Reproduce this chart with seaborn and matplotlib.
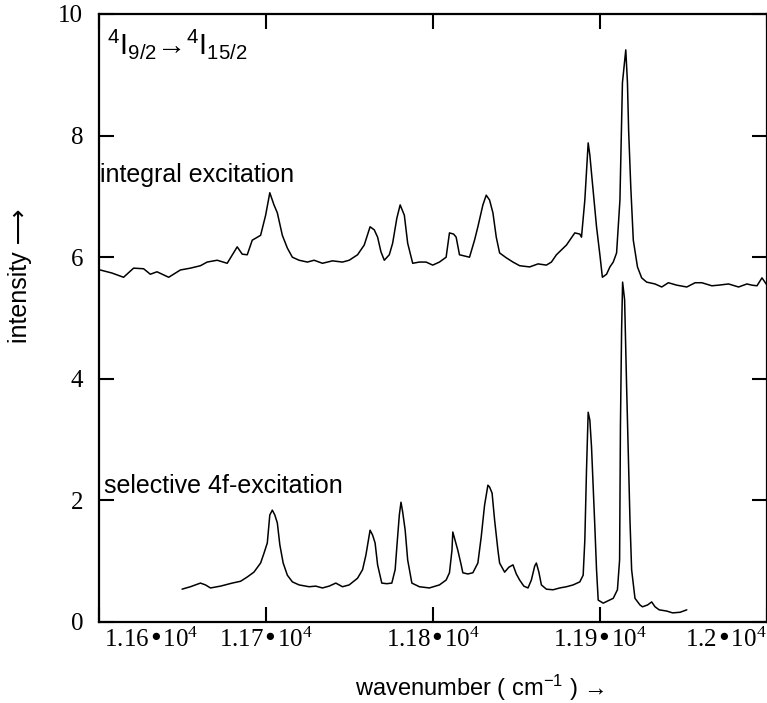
import matplotlib
matplotlib.use("Agg")
import matplotlib.pyplot as plt
import pandas as pd
import seaborn as sns

# integral excitation spectrum (upper trace)
integral_wn = [
    11601, 11608, 11615, 11621, 11627, 11631, 11635, 11642, 11649, 11655,
    11661, 11665, 11671, 11677, 11683, 11686, 11689, 11692, 11697, 11700,
    11702.5, 11705, 11707, 11710, 11713, 11716, 11720, 11725, 11729, 11734,
    11740, 11746, 11750, 11755, 11759, 11762.5, 11765, 11767, 11769, 11771,
    11774, 11776, 11778.5, 11780.5, 11783, 11785, 11788, 11792, 11796, 11800,
    11804, 11808, 11810, 11812.5, 11814, 11816, 11819, 11822, 11825, 11827,
    11830, 11832, 11834, 11836, 11838, 11840, 11844, 11848, 11852, 11858,
    11863, 11868, 11871, 11874, 11880, 11885, 11888, 11889, 11891, 11893,
    11894, 11895, 11898, 11900, 11901.5, 11904, 11906, 11908, 11910, 11912,
    11913.5, 11915.5, 11916.5, 11917.2, 11918.5, 11920, 11922.5, 11925, 11928, 11933,
    11937, 11941, 11946, 11952, 11957, 11961, 11967, 11971, 11977, 11983,
    11988, 11991, 11994, 11997, 12000,
]
integral_int = [
    5.79, 5.74, 5.67, 5.82, 5.81, 5.72, 5.76, 5.67, 5.79, 5.82,
    5.86, 5.92, 5.95, 5.90, 6.17, 6.05, 6.04, 6.28, 6.36, 6.69,
    7.06, 6.86, 6.73, 6.36, 6.15, 6.00, 5.95, 5.92, 5.95, 5.90,
    5.94, 5.92, 5.95, 6.04, 6.20, 6.50, 6.45, 6.33, 6.09, 5.95,
    6.04, 6.23, 6.64, 6.86, 6.69, 6.23, 5.90, 5.92, 5.92, 5.87,
    5.92, 6.00, 6.40, 6.38, 6.33, 6.04, 6.02, 6.00, 6.28, 6.50,
    6.86, 7.02, 6.94, 6.73, 6.33, 6.07, 5.99, 5.92, 5.86, 5.84,
    5.89, 5.87, 5.92, 6.04, 6.20, 6.40, 6.38, 6.33, 6.94, 7.88,
    7.68, 7.38, 6.50, 6.04, 5.67, 5.72, 5.84, 5.92, 6.07, 6.94,
    8.87, 9.41, 8.87, 8.09, 7.15, 6.28, 5.84, 5.66, 5.59, 5.56,
    5.51, 5.58, 5.54, 5.51, 5.58, 5.58, 5.53, 5.54, 5.56, 5.51,
    5.56, 5.54, 5.53, 5.66, 5.54,
]

# selective 4f-excitation spectrum (lower trace)
selective_wn = [
    11650, 11655, 11661, 11664, 11667, 11673, 11680, 11685, 11689, 11693,
    11697, 11699, 11701, 11702.5, 11704, 11705.5, 11707, 11708.5, 11710.5, 11713,
    11716, 11720, 11726, 11730, 11734, 11738, 11742, 11746, 11750, 11755,
    11758, 11760, 11762.5, 11764, 11765.5, 11767, 11769.5, 11772.5, 11775.5, 11777.5,
    11778.5, 11780, 11781, 11782, 11783.5, 11785, 11787.5, 11792, 11798, 11804,
    11808, 11810, 11811.5, 11812, 11813, 11815, 11817, 11818, 11821, 11824,
    11827, 11829, 11831, 11833, 11834, 11835.5, 11837, 11839, 11840, 11843,
    11845.5, 11848, 11850, 11852, 11854.5, 11857, 11859, 11861, 11862, 11863.5,
    11865, 11868, 11872, 11876, 11880, 11884, 11888, 11890, 11891, 11892,
    11893, 11894, 11895, 11897, 11898, 11899, 11902, 11905, 11908, 11910.5,
    11911.8, 11912.3, 11913, 11913.6, 11914.8, 11916, 11918, 11919, 11921, 11924,
    11925.5, 11928.5, 11931, 11933, 11935.5, 11940, 11943.5, 11948, 11952,
]
selective_int = [
    0.54, 0.58, 0.64, 0.61, 0.56, 0.59, 0.64, 0.67, 0.74, 0.82,
    0.97, 1.13, 1.30, 1.76, 1.84, 1.76, 1.63, 1.27, 0.97, 0.77,
    0.66, 0.61, 0.58, 0.59, 0.56, 0.59, 0.64, 0.58, 0.61, 0.72,
    0.86, 1.10, 1.51, 1.43, 1.30, 0.94, 0.64, 0.63, 0.64, 0.86,
    1.23, 1.76, 1.97, 1.81, 1.51, 1.02, 0.64, 0.58, 0.56, 0.61,
    0.69, 0.81, 1.18, 1.48, 1.38, 1.18, 0.94, 0.81, 0.79, 0.81,
    0.97, 1.40, 1.92, 2.25, 2.22, 2.12, 1.68, 1.18, 0.97, 0.82,
    0.90, 0.94, 0.79, 0.69, 0.59, 0.56, 0.69, 0.92, 0.97, 0.82,
    0.61, 0.54, 0.53, 0.56, 0.58, 0.61, 0.66, 0.77, 1.35, 2.50,
    3.45, 3.32, 2.88, 1.56, 0.86, 0.36, 0.31, 0.35, 0.39, 0.53,
    1.02, 3.21, 4.80, 5.59, 5.30, 3.87, 1.68, 0.86, 0.39, 0.28,
    0.25, 0.28, 0.33, 0.25, 0.20, 0.18, 0.15, 0.16, 0.20,
]

x_ticks = [11600, 11700, 11800, 11900, 12000]
x_tick_labels = [" 1.16•10$^4$", "1.17•10$^4$", "1.18•10$^4$", "1.19•10$^4$", "1.2•10$^4$"]
y_ticks = [0, 2, 4, 6, 8, 10]

sns.set_style("ticks")
plt.rcParams["font.family"] = ["Liberation Sans", "DejaVu Sans"]
plt.rcParams["mathtext.default"] = "regular"
plt.rcParams["text.color"] = "black"
plt.rcParams["axes.labelcolor"] = "black"

df = pd.concat([
    pd.DataFrame({"wavenumber": integral_wn, "intensity": integral_int, "series": "integral"}),
    pd.DataFrame({"wavenumber": selective_wn, "intensity": selective_int, "series": "selective"}),
])

fig = plt.figure(figsize=(7.67, 7.03), dpi=100)
ax = fig.add_axes([98.5 / 767, 81 / 703, (767 - 98.5) / 767, 608 / 703])

sns.lineplot(
    data=df, x="wavenumber", y="intensity", hue="series",
    palette={"integral": "black", "selective": "black"},
    estimator=None, legend=False, linewidth=1.1, ax=ax,
)

ax.set_xlim(11600, 12000)
ax.set_ylim(0, 10)

serif = ["Liberation Serif", "DejaVu Serif"]
ax.set_xticks(x_ticks)
ax.set_xticklabels(x_tick_labels, fontsize=18, fontfamily=serif)
ax.set_yticks(y_ticks)
ax.set_yticklabels([str(v) for v in y_ticks], fontsize=18, fontfamily=serif)
xlabels = ax.get_xticklabels()
xlabels[0].set_ha("left")
xlabels[-1].set_ha("right")

ax.tick_params(axis="both", direction="in", length=11, width=1.5,
               top=True, right=True, colors="black")
ax.tick_params(axis="x", pad=4)
ax.tick_params(axis="y", pad=11)
for sp in ax.spines.values():
    sp.set_linewidth(1.6)
    sp.set_color("black")

ax.set_xlabel("wavenumber ( cm$^{-1}$ ) →", fontsize=17)
ax.set_ylabel("intensity ⟶", fontsize=18)
ax.xaxis.set_label_coords(0.57, -0.084)
ax.yaxis.set_label_coords(-0.1, 0.57)

ax.text(11605, 9.5, "${}^4$I$_{9/2}$→${}^4$I$_{15/2}$", fontsize=21, va="center", ha="left")
ax.text(11601, 7.35, "integral excitation", fontsize=18, va="center", ha="left")
ax.text(11603, 2.24, "selective 4f-excitation", fontsize=18, va="center", ha="left")

fig.savefig("out.png", dpi=100)
